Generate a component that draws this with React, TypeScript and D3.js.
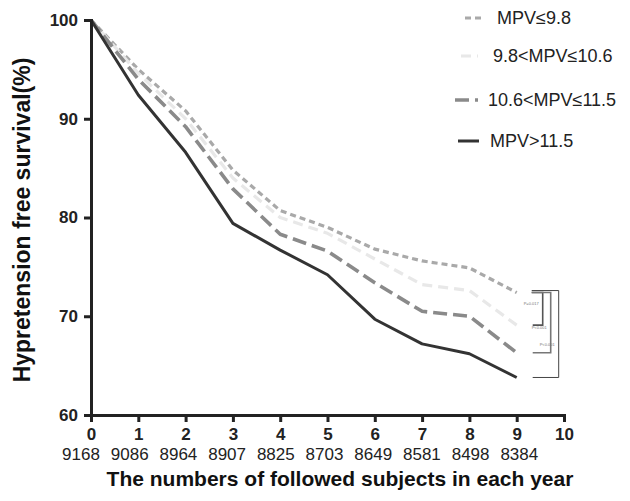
import React from 'react'
import * as d3 from 'd3'

const years = [0, 1, 2, 3, 4, 5, 6, 7, 8, 9]
const followed = ['9168', '9086', '8964', '8907', '8825', '8703', '8649', '8581', '8498', '8384']
const xTicks = [0, 1, 2, 3, 4, 5, 6, 7, 8, 9, 10]
const yTicks = [60, 70, 80, 90, 100]

const seriesNames = ['MPV≤9.8', '9.8<MPV≤10.6', '10.6<MPV≤11.5', 'MPV>11.5']
const mpvLow = [100, 95.0, 90.8, 84.8, 80.7, 79.0, 76.8, 75.6, 74.9, 72.4]
const mpvMid = [100, 94.6, 90.0, 84.0, 80.0, 78.4, 75.8, 73.2, 72.6, 69.1]
const mpvHigh = [100, 94.0, 89.2, 82.9, 78.3, 76.6, 73.4, 70.5, 70.0, 66.3]
const mpvTop = [100, 92.4, 86.6, 79.4, 76.7, 74.2, 69.7, 67.2, 66.2, 63.8]

const pLabels = ['P=0.017', 'P<0.001', 'P<0.001']

const styles = [
  { color: '#a9a9a9', dash: '6,4', width: 3.2 },
  { color: '#e8e8e8', dash: '10,6', width: 3.2 },
  { color: '#8a8a8a', dash: '14,6', width: 3.6 },
  { color: '#333333', dash: null, width: 3 },
]

function App() {
  const svgRef = React.useRef(null)
  const width = 630
  const height = 501

  React.useEffect(() => {
    const svg = d3.select(svgRef.current)
    svg.selectAll('*').remove()

    const x = d3.scaleLinear().domain([0, 10]).range([91, 564])
    const y = d3.scaleLinear().domain([60, 100]).range([415, 20])
    const font = 'Arial, "Liberation Sans", Helvetica, sans-serif'

    const allSeries = [mpvLow, mpvMid, mpvHigh, mpvTop]
    const line = d3
      .line<number>()
      .x((d, i) => x(years[i]))
      .y((d) => y(d))

    // lines (light ones first so the dark one sits on top)
    allSeries.forEach((s, k) => {
      const st = styles[k]
      svg
        .append('path')
        .datum(s)
        .attr('d', line)
        .attr('fill', 'none')
        .attr('stroke', st.color)
        .attr('stroke-width', st.width)
        .attr('stroke-dasharray', st.dash)
        .attr('stroke-linejoin', 'round')
    })

    // significance brackets at year 9
    const x9 = x(9)
    const bracketCols = ['#555', '#777', '#444']
    const bracketOffsets = [26, 34, 42]
    ;[mpvMid, mpvHigh, mpvTop].forEach((s, k) => {
      const xr = x9 + bracketOffsets[k]
      const yTop = y(mpvLow[9]) - (k === 2 ? 2 : 0)
      const yBot = y(s[9])
      svg
        .append('path')
        .attr('d', `M${x9 + 15},${yTop}H${xr}V${yBot}H${x9 + 16}`)
        .attr('fill', 'none')
        .attr('stroke', bracketCols[k])
        .attr('stroke-width', k === 2 ? 1 : 1.6)
      svg
        .append('text')
        .attr('x', xr - 4)
        .attr('y', (yTop + yBot) / 2 + (k === 0 ? -4 : k === 1 ? 6 : 12))
        .attr('text-anchor', 'end')
        .attr('font-family', font)
        .attr('font-size', 4)
        .attr('fill', '#777')
        .text(pLabels[k])
    })

    // y axis
    const yAxis = svg
      .append('g')
      .attr('transform', `translate(${x(0)},0)`)
      .call(d3.axisLeft(y).tickValues(yTicks).tickSize(7).tickPadding(6))
    yAxis.select('.domain').attr('stroke', '#222').attr('stroke-width', 3)
    yAxis.selectAll('.tick line').attr('stroke', '#222').attr('stroke-width', 3)
    yAxis
      .selectAll('.tick text')
      .attr('font-family', font)
      .attr('font-size', 17)
      .attr('font-weight', 'bold')
      .attr('fill', '#222')

    // x axis
    const xAxis = svg
      .append('g')
      .attr('transform', `translate(0,${y(60)})`)
      .call(d3.axisBottom(x).tickValues(xTicks).tickSize(7).tickPadding(6).tickFormat(d3.format('d')))
    xAxis.select('.domain').attr('stroke', '#222').attr('stroke-width', 3)
    xAxis.selectAll('.tick line').attr('stroke', '#222').attr('stroke-width', 3)
    xAxis
      .selectAll('.tick text')
      .attr('font-family', font)
      .attr('font-size', 17)
      .attr('font-weight', 'bold')
      .attr('fill', '#222')

    // followed subjects row
    svg
      .selectAll('.count')
      .data(followed)
      .enter()
      .append('text')
      .attr('x', (d, i) => x(years[i]) - 10 + i * 1.4)
      .attr('y', 460)
      .attr('text-anchor', 'middle')
      .attr('font-family', font)
      .attr('font-size', 17)
      .attr('fill', '#222')
      .text((d) => d)

    // axis titles
    svg
      .append('text')
      .attr('x', 340)
      .attr('y', 486)
      .attr('text-anchor', 'middle')
      .attr('font-family', font)
      .attr('font-size', 21)
      .attr('font-weight', 'bold')
      .attr('fill', '#111')
      .text('The numbers of followed subjects in each year')

    svg
      .append('text')
      .attr('transform', `translate(30,220) rotate(-90)`)
      .attr('text-anchor', 'middle')
      .attr('font-family', font)
      .attr('font-size', 23)
      .attr('font-weight', 'bold')
      .attr('fill', '#111')
      .text('Hypretension free survival(%)')

    // legend
    const legendRows = [
      { y: 18, x1: 465, x2: 482, tx: 497 },
      { y: 56, x1: 461, x2: 478, tx: 493 },
      { y: 100, x1: 455, x2: 478, tx: 488 },
      { y: 141, x1: 458, x2: 479, tx: 490 },
    ]
    seriesNames.forEach((name, k) => {
      const r = legendRows[k]
      const st = styles[k]
      svg
        .append('line')
        .attr('x1', r.x1)
        .attr('x2', r.x2)
        .attr('y1', r.y)
        .attr('y2', r.y)
        .attr('stroke', st.color)
        .attr('stroke-width', st.width)
        .attr('stroke-dasharray', st.dash)
      svg
        .append('text')
        .attr('x', r.tx)
        .attr('y', r.y)
        .attr('dy', '0.35em')
        .attr('font-family', font)
        .attr('font-size', 18)
        .attr('fill', '#222')
        .text(name)
    })
  }, [])

  return <svg ref={svgRef} width={width} height={height} style={{ position: 'absolute', left: 0, top: 0 }}></svg>
}

export default App
